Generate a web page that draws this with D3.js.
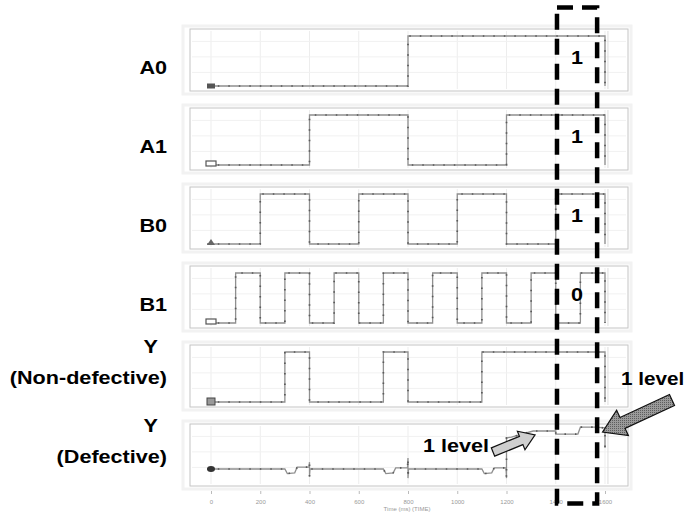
<!DOCTYPE html>
<meta charset="utf-8" />
<style>
    body { margin: 0; background: #fff; }
    text { font-family: "Liberation Sans", Arial, sans-serif; }
    .lbl { font-weight: bold; font-size: 18px; fill: #000; }
    .axis path { display: none; }
    .axis line { stroke: #bbb; }
    .axis text { font-size: 6px; fill: #999; }
</style>

<svg width="687" height="514"></svg>

<script src="https://d3js.org/d3.v7.min.js"></script>
<script>
    // time axis
    const tickValues = [0, 200, 400, 600, 800, 1000, 1200, 1400, 1600];
    const tickLabels = ['0', '200', '400', '600', '800', '1000', '1200', '1400', '1600'];

    // signal names (left labels)
    const names = [['A0'], ['A1'], ['B0'], ['B1'], ['Y', '(Non-defective)'], ['Y', '(Defective)']];

    // digital signals: [time, level] — level holds from that time on
    const a0 = [[-15, 0], [800, 1], [1600, 0]];
    const a1 = [[-15, 0], [400, 1], [800, 0], [1200, 1], [1600, 0]];
    const b0 = [[-15, 0], [200, 1], [400, 0], [600, 1], [800, 0], [1000, 1], [1200, 0], [1400, 1], [1600, 0]];
    const b1 = [[-15, 0], [100, 1], [200, 0], [300, 1], [400, 0], [500, 1], [600, 0], [700, 1],
                [800, 0], [900, 1], [1000, 0], [1100, 1], [1200, 0], [1300, 1], [1400, 0], [1500, 1], [1600, 0]];
    const yGood = [[-15, 0], [300, 1], [400, 0], [700, 1], [800, 0], [1100, 1], [1600, 0]];

    // defective output: analog trace [time, level]
    const yBad = [[-15, 0], [300, 0], [310, -0.12], [340, -0.1], [350, 0.05], [398, 0.05], [400, 0.18], [400, -0.2],
                  [402, 0], [700, 0], [710, -0.12], [740, -0.1], [750, 0.03], [798, 0.03], [800, 0.29], [800, -0.24],
                  [802, 0], [1100, 0], [1110, -0.12], [1140, -0.1], [1150, 0.03], [1198, 0.03], [1200, -0.24],
                  [1200, 0.82], [1220, 0.84], [1308, 1.0], [1400, 1.0], [1400, 0.92], [1490, 0.92], [1500, 1.1],
                  [1560, 1.1], [1600, 1.08], [1600, 0.55]];

    // values read inside the dashed column
    const boxValues = ['1', '1', '1', '0'];
    const boxRange = [1405, 1568];

    const series = [a0, a1, b0, b1, yGood, yBad];
    const markers = ['fill', 'open', 'tri', 'open', 'cross', 'dot'];

    const svg = d3.select('svg');
    const x = d3.scaleLinear().domain([0, 1600]).range([211, 605]);

    const panelLeft = 190, panelRight = 628, panelH = 62, firstTop = 29, pitch = 79;

    function label(txt, px, py, anchor, sx = 1.2) {
        svg.append('text')
            .attr('class', 'lbl')
            .attr('text-anchor', anchor)
            .attr('transform', `translate(${px},${py}) scale(${sx},1)`)
            .text(txt);
    }

    const yScales = [];

    series.forEach((data, i) => {
        const top = firstTop + i * pitch;
        const bottom = top + panelH;
        const y = d3.scaleLinear().domain([0, 1]).range(i === 5 ? [top + 45, top + 7] : [top + 57, top + 7]);
        yScales.push(y);

        const g = svg.append('g');

        // outer faint frame
        g.append('rect')
            .attr('x', panelLeft - 7).attr('y', top - 3)
            .attr('width', panelRight - panelLeft + 10).attr('height', panelH + 6)
            .attr('fill', 'none').attr('stroke', '#f2f2f2').attr('stroke-width', 3);

        g.append('rect')
            .attr('x', panelLeft).attr('y', top)
            .attr('width', panelRight - panelLeft).attr('height', panelH)
            .attr('fill', '#fff').attr('stroke', '#c4c4c4');

        // grid
        g.selectAll('.vg').data(tickValues).enter().append('line')
            .attr('x1', d => x(d)).attr('x2', d => x(d))
            .attr('y1', top + 2).attr('y2', bottom - 2)
            .attr('stroke', '#ededed');
        g.selectAll('.hg').data([0.2, 0.45, 0.7]).enter().append('line')
            .attr('x1', panelLeft + 2).attr('x2', panelRight - 2)
            .attr('y1', d => top + d * panelH).attr('y2', d => top + d * panelH)
            .attr('stroke', '#f1f1f1');
        g.append('line')
            .attr('x1', x(1612)).attr('x2', x(1612))
            .attr('y1', top + 2).attr('y2', bottom - 2)
            .attr('stroke', '#ddd');

        const line = d3.line()
            .x(d => x(d[0]))
            .y(d => y(d[1]))
            .curve(i === 5 ? d3.curveLinear : d3.curveStepAfter);

        g.append('path').datum(data)
            .attr('d', line)
            .attr('fill', 'none')
            .attr('stroke', '#8f8f8f')
            .attr('stroke-width', 1.3);
        g.append('path').datum(data)
            .attr('d', line)
            .attr('fill', 'none')
            .attr('stroke', '#5a5a5a')
            .attr('stroke-width', 1.7)
            .attr('stroke-dasharray', '1.5,9');

        // start marker
        const mx = x(0), my = y(0);
        const m = markers[i];
        if (m === 'fill') {
            g.append('rect').attr('x', mx - 4).attr('y', my - 2.5).attr('width', 8).attr('height', 5).attr('fill', '#555');
        } else if (m === 'open') {
            g.append('rect').attr('x', mx - 5).attr('y', my - 4).attr('width', 10).attr('height', 5)
                .attr('fill', '#fff').attr('stroke', '#555').attr('stroke-width', 1.2);
        } else if (m === 'tri') {
            g.append('path').attr('d', `M${mx - 4},${my + 1}L${mx},${my - 5}L${mx + 4},${my + 1}Z`).attr('fill', '#666');
        } else if (m === 'cross') {
            g.append('rect').attr('x', mx - 4).attr('y', my - 4).attr('width', 8).attr('height', 7)
                .attr('fill', '#999').attr('stroke', '#444');
        } else {
            g.append('ellipse').attr('cx', mx).attr('cy', my).attr('rx', 4).attr('ry', 3).attr('fill', '#333');
        }

        // left labels
        const nm = names[i];
        if (nm.length === 1) {
            label(nm[0], 167, top + 45, 'end');
        } else {
            label(nm[0], 158, top + 8, 'end');
            label(nm[1], 167, top + 39, 'end');
        }
    });

    // time axis
    svg.append('g')
        .attr('class', 'axis')
        .attr('transform', 'translate(0,491)')
        .call(d3.axisBottom(x).tickValues(tickValues).tickFormat((d, i) => tickLabels[i]).tickSize(3).tickPadding(6));

    svg.append('text')
        .attr('x', 407).attr('y', 511)
        .attr('text-anchor', 'middle')
        .attr('font-size', 6)
        .attr('fill', '#999')
        .text('Time (ms) (TIME)');

    // dashed highlight column
    svg.append('rect')
        .attr('x', x(boxRange[0])).attr('y', 7.5)
        .attr('width', x(boxRange[1]) - x(boxRange[0])).attr('height', 496)
        .attr('fill', 'none')
        .attr('stroke', '#000')
        .attr('stroke-width', 4.5)
        .attr('stroke-dasharray', '16,9');

    boxValues.forEach((v, i) => {
        const top = firstTop + i * pitch;
        label(v, (x(boxRange[0]) + x(boxRange[1])) / 2, top + 35, 'middle');
    });

    // arrows
    const defs = svg.append('defs');
    const pat = defs.append('pattern').attr('id', 'dots').attr('width', 2).attr('height', 2).attr('patternUnits', 'userSpaceOnUse');
    pat.append('rect').attr('width', 2).attr('height', 2).attr('fill', '#9a9a9a');
    pat.append('rect').attr('width', 1).attr('height', 1).attr('fill', '#5e5e5e');

    function arrow(tx, ty, fx, fy, shaft, head, headLen, fill) {
        const dx = tx - fx, dy = ty - fy;
        const len = Math.hypot(dx, dy);
        const ux = dx / len, uy = dy / len, nx = -uy, ny = ux;
        const bx = tx - ux * headLen, by = ty - uy * headLen;
        const pts = [
            [fx + nx * shaft / 2, fy + ny * shaft / 2],
            [bx + nx * shaft / 2, by + ny * shaft / 2],
            [bx + nx * head / 2, by + ny * head / 2],
            [tx, ty],
            [bx - nx * head / 2, by - ny * head / 2],
            [bx - nx * shaft / 2, by - ny * shaft / 2],
            [fx - nx * shaft / 2, fy - ny * shaft / 2],
        ];
        svg.append('polygon')
            .attr('points', pts.map(p => p.join(',')).join(' '))
            .attr('fill', fill)
            .attr('stroke', '#111')
            .attr('stroke-width', 1.2)
            .attr('stroke-linejoin', 'miter');
    }

    const yd = yScales[5];
    arrow(x(1316), yd(0.9), 493, 452, 9, 20, 15, '#cfcfcf');
    arrow(x(1590), yd(0.97), 672, 400, 12, 28, 22, 'url(#dots)');

    label('1 level', 423, 452, 'start');
    label('1 level', 621, 385, 'start', 1.15);
</script>
